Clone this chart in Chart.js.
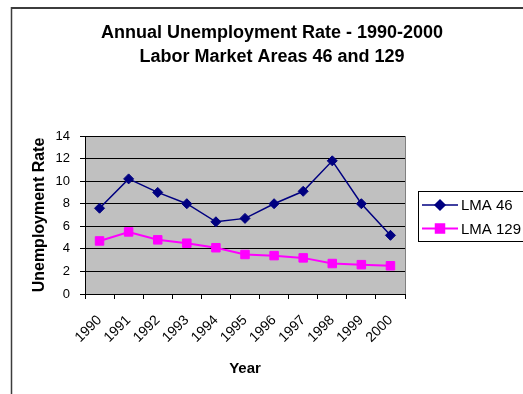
<!DOCTYPE html>
<html>
<head>
<meta charset="utf-8">
<script src="https://cdn.jsdelivr.net/npm/chart.js@4"></script>
<style>
  html, body { margin: 0; padding: 0; background: #fff; }
  #wrap { position: relative; width: 523px; height: 394px; }
</style>
</head>
<body>
<div id="wrap"><canvas id="chart-unemployment" width="523" height="394"></canvas></div>
<script>
/* ---------- data ---------- */
const years = ['1990','1991','1992','1993','1994','1995','1996','1997','1998','1999','2000'];
const lma46 = [7.6, 10.2, 9.0, 8.0, 6.4, 6.7, 8.0, 9.1, 11.8, 8.0, 5.2];
const lma129 = [4.7, 5.5, 4.8, 4.5, 4.1, 3.5, 3.4, 3.2, 2.7, 2.6, 2.5];
const yMin = 0, yMax = 14, yStep = 2;
const titleLines = ['Annual Unemployment Rate - 1990-2000', 'Labor Market Areas 46 and 129'];

const FONT = 'Arial, "Liberation Sans", sans-serif';

// plot background, frame, two-line title and boxed legend
const excelFrame = {
  id: 'excelFrame',
  beforeDraw(chart) {
    const { ctx, chartArea: a } = chart;
    ctx.save();
    ctx.fillStyle = '#c0c0c0';
    ctx.fillRect(a.left, a.top, a.right - a.left, a.bottom - a.top);
    ctx.restore();
  },
  afterDraw(chart) {
    const { ctx, chartArea: a } = chart;
    ctx.save();

    // right edge of the plot area
    ctx.strokeStyle = '#808080';
    ctx.lineWidth = 1;
    ctx.beginPath();
    ctx.moveTo(a.right + 0.5, a.top);
    ctx.lineTo(a.right + 0.5, a.bottom);
    ctx.stroke();

    // title
    ctx.fillStyle = '#000';
    ctx.font = 'bold 18px ' + FONT;
    ctx.textAlign = 'center';
    ctx.textBaseline = 'middle';
    ctx.fillText(titleLines[0], 272, 33);
    ctx.fillText(titleLines[1], 272, 57);

    // legend box
    const box = { x: 418.5, y: 191.5, w: 120, h: 50 };
    ctx.strokeStyle = '#000';
    ctx.lineWidth = 1;
    ctx.fillStyle = '#fff';
    ctx.fillRect(box.x, box.y, box.w, box.h);
    ctx.strokeRect(box.x, box.y, box.w, box.h);

    ctx.font = '15px ' + FONT;
    ctx.textAlign = 'left';
    chart.data.datasets.forEach((ds, i) => {
      const y = 205 + i * 23.5;
      ctx.strokeStyle = ds.borderColor;
      ctx.lineWidth = ds.borderWidth;
      ctx.beginPath();
      ctx.moveTo(422, y);
      ctx.lineTo(458, y);
      ctx.stroke();
      ctx.fillStyle = ds.backgroundColor;
      ctx.strokeStyle = ds.borderColor;
      Chart.helpers.drawPoint(ctx, { pointStyle: ds.pointStyle, radius: ds.pointRadius, borderWidth: 1, rotation: 0 }, 440, y);
      ctx.fillStyle = '#000';
      ctx.fillText(ds.label, 461, y + 1);
    });

    // outer chart frame
    ctx.strokeStyle = '#3c3c3c';
    ctx.lineWidth = 2;
    ctx.beginPath();
    ctx.moveTo(523, 8);
    ctx.lineTo(11.5, 8);
    ctx.stroke();
    ctx.lineWidth = 1.5;
    ctx.beginPath();
    ctx.moveTo(11.5, 7);
    ctx.lineTo(11.5, 394);
    ctx.stroke();

    ctx.restore();
  }
};

const ctx = document.getElementById('chart-unemployment');
new Chart(ctx, {
  type: 'line',
  data: {
    labels: years,
    datasets: [
      { label: 'LMA 46', data: lma46, borderColor: '#000080', backgroundColor: '#000080', borderWidth: 1.5, pointStyle: 'rectRot', pointRadius: 5, pointBorderWidth: 1, tension: 0 },
      { label: 'LMA 129', data: lma129, borderColor: '#ff00ff', backgroundColor: '#ff00ff', borderWidth: 2, pointStyle: 'rect', pointRadius: 6, pointBorderWidth: 1, tension: 0 }
    ]
  },
  options: {
    responsive: false,
    animation: false,
    layout: { padding: { top: 136, right: 118, left: 0, bottom: 0 } },
    plugins: { legend: { display: false }, title: { display: false }, tooltip: { enabled: false } },
    scales: {
      x: {
        offset: true,
        afterFit: s => { s.height = 100; },
        grid: { offset: true, drawOnChartArea: false, drawTicks: true, tickLength: 5, color: '#000' },
        border: { color: '#000', width: 1 },
        ticks: { color: '#000', font: { size: 14, family: FONT }, minRotation: 45, maxRotation: 45, padding: 13, autoSkip: false },
        title: { display: true, text: 'Year', color: '#000', font: { size: 15, weight: 'bold', family: FONT }, padding: { top: 0, bottom: 16 } }
      },
      y: {
        min: yMin,
        max: yMax,
        afterFit: s => { s.width = 85; },
        grid: { color: '#000', tickLength: 5 },
        border: { color: '#000', width: 1 },
        ticks: { stepSize: yStep, color: '#000', font: { size: 13, family: FONT }, padding: 10 },
        title: { display: true, text: 'Unemployment Rate', color: '#000', font: { size: 16, weight: 'bold', family: FONT }, padding: { top: 30, bottom: 0 } }
      }
    }
  },
  plugins: [excelFrame]
});
</script>
</body>
</html>
